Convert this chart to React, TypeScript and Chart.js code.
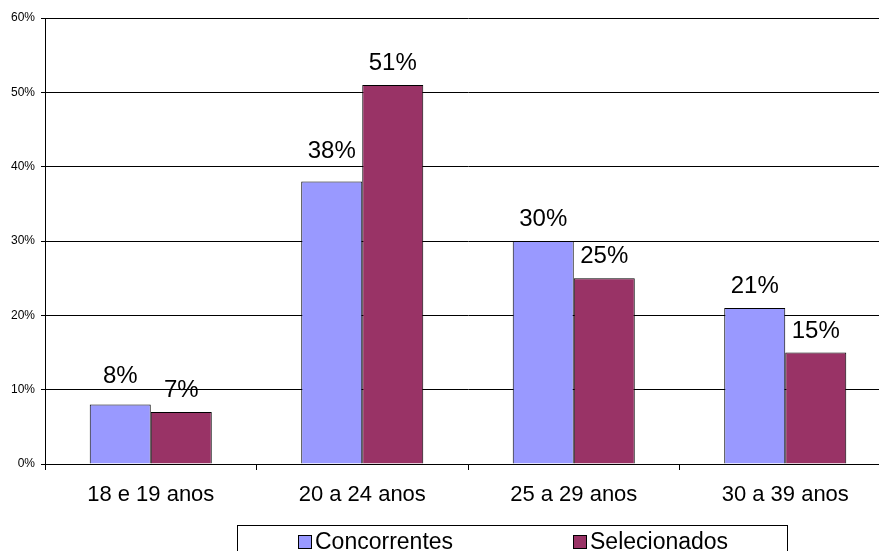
import React, { useEffect, useRef } from "react";
import { Chart, registerables } from "chart.js";

Chart.register(...registerables);

const categories = ["18 e 19 anos", "20 a 24 anos", "25 a 29 anos", "30 a 39 anos"];
const seriesNames = ["Concorrentes", "Selecionados"];
const concorrentes = [8, 38, 30, 21];
const selecionados = [7, 51, 25, 15];
const seriesColors = ["#9999FF", "#993366"];
const yTicks = [0, 10, 20, 30, 40, 50, 60];

const FONT = "'Liberation Sans', Arial, Helvetica, sans-serif";

// Value labels above each bar; a few are lifted a bit more so they clear the gridlines.
const valueLabels = {
  id: "valueLabels",
  afterDatasetsDraw(chart: any, _args: any, opts: any) {
    const ctx = chart.ctx;
    ctx.save();
    ctx.fillStyle = "#000";
    ctx.font = `24px ${FONT}`;
    ctx.textAlign = "center";
    ctx.textBaseline = "alphabetic";
    chart.data.datasets.forEach((ds: any, di: number) => {
      const meta = chart.getDatasetMeta(di);
      meta.data.forEach((el: any, i: number) => {
        const lift = (opts.extra && opts.extra[`${di}-${i}`]) || 0;
        ctx.fillText(`${ds.data[i]}%`, el.x, el.y - opts.gap - lift);
      });
    });
    ctx.restore();
  },
};

// Boxed legend under the axis labels.
const boxLegend = {
  id: "boxLegend",
  afterDraw(chart: any, _args: any, opts: any) {
    const ctx = chart.ctx;
    ctx.save();
    ctx.strokeStyle = "#000";
    ctx.lineWidth = 1;
    ctx.strokeRect(opts.left + 0.5, opts.top + 0.5, opts.width, opts.height);
    ctx.font = `23px ${FONT}`;
    ctx.textAlign = "left";
    ctx.textBaseline = "alphabetic";
    chart.data.datasets.forEach((ds: any, di: number) => {
      const x = opts.itemX[di];
      ctx.fillStyle = ds.backgroundColor;
      ctx.fillRect(x, opts.boxTop, opts.box, opts.box);
      ctx.strokeRect(x + 0.5, opts.boxTop + 0.5, opts.box - 1, opts.box - 1);
      ctx.fillStyle = "#000";
      ctx.fillText(ds.label, x + opts.box + 3, opts.textBase);
    });
    ctx.restore();
  },
};

export default function App() {
  const ref = useRef<HTMLCanvasElement | null>(null);

  useEffect(() => {
    document.body.style.margin = "0";
    const canvas = ref.current;
    if (!canvas) return;
    const chart = new Chart(canvas, {
      type: "bar",
      data: {
        labels: categories,
        datasets: [
          {
            label: seriesNames[0],
            data: concorrentes,
            backgroundColor: seriesColors[0],
            borderColor: "#000",
            borderWidth: 1,
          },
          {
            label: seriesNames[1],
            data: selecionados,
            backgroundColor: seriesColors[1],
            borderColor: "#000",
            borderWidth: 1,
          },
        ],
      },
      options: {
        responsive: false,
        animation: false,
        events: [],
        devicePixelRatio: 1,
        layout: { padding: { left: 0, top: 18, right: 0, bottom: 0 } },
        datasets: {
          bar: { categoryPercentage: 0.577, barPercentage: 1 },
        },
        plugins: {
          legend: { display: false },
          tooltip: { enabled: false },
          valueLabels: { gap: 15, extra: { "0-0": 7, "0-1": 9 } },
          boxLegend: {
            left: 237,
            top: 525,
            width: 550,
            height: 40,
            itemX: [298, 573],
            box: 14,
            boxTop: 535,
            textBase: 549,
          },
        } as any,
        scales: {
          x: {
            grid: {
              display: true,
              drawOnChartArea: false,
              drawTicks: true,
              tickLength: 6,
              color: "#000",
              offset: true,
            },
            border: { display: true, color: "#000", width: 1 },
            ticks: {
              color: "#000",
              font: { family: FONT, size: 22 },
              padding: 12,
              maxRotation: 0,
            },
            afterFit(scale: any) {
              scale.height = 87;
            },
          },
          y: {
            min: yTicks[0],
            max: yTicks[yTicks.length - 1],
            afterBuildTicks(scale: any) {
              scale.ticks = yTicks.map((v) => ({ value: v }));
            },
            grid: {
              color: "#000",
              tickLength: 4,
              drawTicks: true,
            },
            border: { display: true, color: "#000", width: 1 },
            ticks: {
              color: "#000",
              font: { family: FONT, size: 12 },
              padding: 6,
              callback: (v: any) => `${v}%`,
            },
            afterFit(scale: any) {
              scale.width = 45;
            },
          },
        },
      },
      plugins: [valueLabels, boxLegend],
    });
    return () => chart.destroy();
  }, []);

  return (
    <div style={{ width: 879, height: 551, overflow: "hidden", background: "#fff", position: "relative" }}>
      <canvas ref={ref} width={891} height={551} style={{ display: "block" }} />
    </div>
  );
}
